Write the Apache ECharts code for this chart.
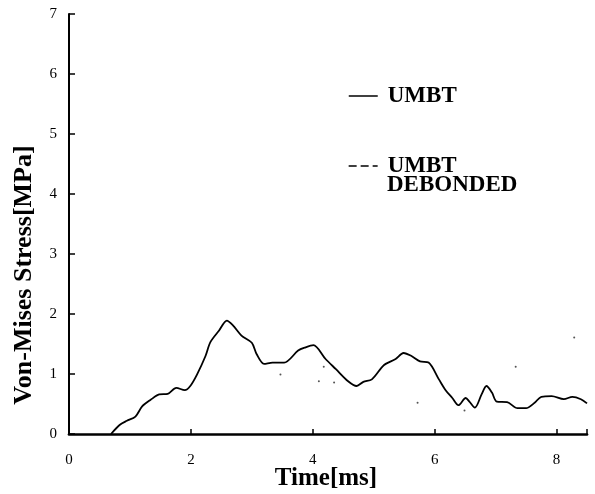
<!DOCTYPE html>
<html><head><meta charset="utf-8">
<script src="https://cdn.jsdelivr.net/npm/echarts@6/dist/echarts.min.js"></script>
<style>html,body{margin:0;padding:0;background:#fff}#c{width:595px;height:494px}</style>
</head><body><div id="c"></div>
<script>
var umbtX = [0.69,0.83,0.95,1.09,1.2,1.34,1.48,1.62,1.76,1.9,1.99,2.1,2.24,2.32,2.46,2.59,2.69,2.83,3.0,3.08,3.2,3.34,3.53,3.76,3.87,4.01,4.21,4.38,4.58,4.72,4.83,4.97,5.17,5.36,5.49,5.62,5.76,5.9,6.07,6.18,6.29,6.39,6.51,6.57,6.66,6.77,6.85,6.94,7.02,7.19,7.36,7.5,7.64,7.75,7.92,8.12,8.26,8.4,8.5];
var umbtY = [0,0.15,0.22,0.29,0.46,0.57,0.66,0.67,0.77,0.73,0.80,0.99,1.30,1.53,1.72,1.89,1.81,1.64,1.52,1.33,1.17,1.19,1.19,1.39,1.44,1.48,1.25,1.08,0.88,0.80,0.87,0.91,1.15,1.25,1.35,1.30,1.21,1.19,0.91,0.73,0.60,0.48,0.60,0.54,0.44,0.66,0.80,0.69,0.54,0.53,0.43,0.43,0.52,0.62,0.63,0.58,0.62,0.58,0.51];
var debX = [3.47,4.1,4.18,4.35,5.72,6.49,7.33,8.29];
var debY = [0.99,0.88,1.12,0.86,0.52,0.39,1.12,1.61];
var xTicks = [0,2,4,6,8];
var yTicks = [0,1,2,3,4,5,6,7];
var seriesNames = ['UMBT','UMBT DEBONDED'];

function pairs(xs, ys){ return xs.map(function(x,i){return [x, ys[i]];}); }
var F = '"Liberation Serif","Times New Roman",serif';
var chart = echarts.init(document.getElementById('c'), null, {renderer:'canvas'});
var legendText = {fontFamily:F, fontWeight:'bold', fontSize:23, color:'#000', padding:[0,0,0,5], lineHeight:24};
chart.setOption({
  animation:false,
  backgroundColor:'#fff',
  grid:{left:69, top:14, right:8, bottom:60},
  xAxis:{type:'value', min:0, max:8.5, interval:2,
    axisLine:{lineStyle:{color:'#000', width:2.7}},
    axisTick:{inside:true, length:5, lineStyle:{color:'#000', width:1.5}},
    axisLabel:{color:'#000', fontFamily:F, fontSize:15, margin:19,
      formatter:function(v){return xTicks.indexOf(v)>=0 ? String(v) : '';}},
    splitLine:{show:false}},
  yAxis:{type:'value', min:0, max:7, interval:1,
    axisLine:{show:true, lineStyle:{color:'#000', width:2}},
    axisTick:{show:true, inside:true, length:6, lineStyle:{color:'#000', width:1.5}},
    axisLabel:{color:'#000', fontFamily:F, fontSize:15, margin:12,
      formatter:function(v){return yTicks.indexOf(v)>=0 ? String(v) : '';}},
    splitLine:{show:false}},
  legend:[
    {data:[seriesNames[0]], left:348, top:84, padding:0, itemWidth:29, itemHeight:14, itemGap:0,
      textStyle:legendText, itemStyle:{opacity:0},
      lineStyle:{color:'#000', width:1.5, opacity:1, type:'solid'}},
    {data:[seriesNames[1]], left:348, top:154, padding:0, itemWidth:29, itemHeight:14, itemGap:0,
      formatter:function(n){return n.split(' ')[0];},
      textStyle:legendText, itemStyle:{opacity:0},
      lineStyle:{color:'#000', width:1.3, opacity:1, type:[8,4]}}
  ],
  graphic:[
    {type:'text', x:387, y:185, style:{text:'DEBONDED', fontFamily:F, fontWeight:'bold', fontSize:23, fill:'#000', textVerticalAlign:'middle'}},
    {type:'text', x:24, y:275, rotation:Math.PI/2, style:{text:'Von-Mises Stress[MPa]', fontFamily:F, fontWeight:'bold', fontSize:26, fill:'#000', textAlign:'center', textVerticalAlign:'middle'}},
    {type:'text', x:326, y:479, style:{text:'Time[ms]', fontFamily:F, fontWeight:'bold', fontSize:25, fill:'#000', textAlign:'center', textVerticalAlign:'middle'}}
  ],
  series:[
    {name:seriesNames[0], type:'line', data:pairs(umbtX, umbtY), symbol:'none', smooth:0.3,
      lineStyle:{color:'#000', width:1.8}, itemStyle:{color:'#000'}},
    {name:seriesNames[1], type:'line', data:pairs(debX, debY), symbol:'circle', symbolSize:2, showSymbol:true,
      lineStyle:{color:'#000', width:1, type:[5,4], opacity:0}, itemStyle:{color:'#555'}}
  ]
});
</script></body></html>
